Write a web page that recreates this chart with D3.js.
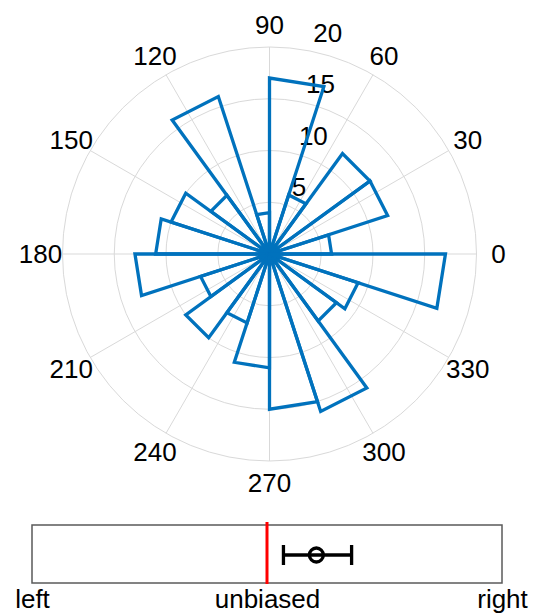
<!DOCTYPE html>
<html>
<head>
<meta charset="utf-8">
<script src="https://cdn.jsdelivr.net/npm/d3@7"></script>
<style>
  html, body { margin: 0; padding: 0; background: #fff; }
  svg { display: block; font-family: "Liberation Sans", Arial, Helvetica, sans-serif; }
</style>
</head>
<body>
<svg id="chart" width="534" height="615"></svg>
<script>
// Angular bin edges (degrees) and counts per bin
const binEdges = [0, 18, 36, 54, 72, 90, 108, 126, 144, 162, 180, 198, 216, 234, 252, 270, 288, 306, 324, 342, 360];
const counts = [6, 12, 12, 6, 17, 4, 16, 7, 10, 11, 13, 7, 10, 7, 11, 15, 16, 8, 9, 17];

// Polar axis ticks
const thetaTicks = [0, 30, 60, 90, 120, 150, 180, 210, 240, 270, 300, 330];
const rTicks = [5, 10, 15, 20];
const rMax = 20;

// Bias summary strip
const biasTicks = [-1, 0, 1];
const biasTickLabels = ["left", "unbiased", "right"];
const biasMean = 0.21;
const biasLow = 0.07;
const biasHigh = 0.36;

const svg = d3.select("#chart");
const cx = 269.5, cy = 254, R = 207;
const blue = "#0072BD";
const gridColor = "#d9d9d9";
const fontSize = 26;

const r = d3.scaleLinear().domain([0, rMax]).range([0, R]);
const toRad = d => d * Math.PI / 180;
const px = (rad, deg) => cx + rad * Math.cos(toRad(deg));
const py = (rad, deg) => cy - rad * Math.sin(toRad(deg));

const polar = svg.append("g");

// grid circles
polar.selectAll("circle.ring")
  .data(rTicks)
  .join("circle")
  .attr("class", "ring")
  .attr("cx", cx).attr("cy", cy)
  .attr("r", d => r(d))
  .attr("fill", "none")
  .attr("stroke", gridColor)
  .attr("stroke-width", 1);

// grid spokes
polar.selectAll("line.spoke")
  .data(thetaTicks)
  .join("line")
  .attr("class", "spoke")
  .attr("x1", cx).attr("y1", cy)
  .attr("x2", d => px(R, d)).attr("y2", d => py(R, d))
  .attr("stroke", gridColor)
  .attr("stroke-width", 1);

// angular tick labels
polar.selectAll("text.theta")
  .data(thetaTicks)
  .join("text")
  .attr("class", "theta")
  .attr("x", d => px(R + 22, d))
  .attr("y", d => py(R + 22, d))
  .attr("text-anchor", "middle")
  .attr("dominant-baseline", "central")
  .attr("font-size", fontSize)
  .attr("fill", "#000")
  .text(d => d);

// radial tick labels along the radial axis
const rAxisAngle = 82;
polar.selectAll("text.rlab")
  .data(rTicks)
  .join("text")
  .attr("class", "rlab")
  .attr("x", d => px(r(d), rAxisAngle) + 15)
  .attr("y", d => py(r(d), rAxisAngle) - 16)
  .attr("text-anchor", "start")
  .attr("dominant-baseline", "central")
  .attr("font-size", fontSize)
  .attr("fill", "#000")
  .text(d => d);

// histogram bins drawn as outlines
const bins = counts.map((c, i) => ({ a0: binEdges[i], a1: binEdges[i + 1], v: c }));
polar.selectAll("path.bin")
  .data(bins)
  .join("path")
  .attr("class", "bin")
  .attr("d", d => {
    const rr = r(d.v);
    return `M${cx},${cy}L${px(rr, d.a0)},${py(rr, d.a0)}L${px(rr, d.a1)},${py(rr, d.a1)}Z`;
  })
  .attr("fill", "none")
  .attr("stroke", blue)
  .attr("stroke-width", 3.3)
  .attr("stroke-linejoin", "miter");

// bias strip
const x = d3.scaleLinear().domain([-1, 1]).range([32, 502]);
const yTop = 525, yBot = 583, yMid = 555;
const strip = svg.append("g");

strip.append("rect")
  .attr("x", x(-1)).attr("y", yTop)
  .attr("width", x(1) - x(-1)).attr("height", yBot - yTop)
  .attr("fill", "none")
  .attr("stroke", "#5a5a5a")
  .attr("stroke-width", 1.5);

strip.append("line")
  .attr("x1", x(0)).attr("x2", x(0))
  .attr("y1", yTop - 3).attr("y2", yBot + 1)
  .attr("stroke", "#ff0000")
  .attr("stroke-width", 3);

const eb = strip.append("g").attr("stroke", "#000").attr("stroke-width", 3.3).attr("fill", "none");
eb.append("line").attr("x1", x(biasLow)).attr("x2", x(biasHigh)).attr("y1", yMid).attr("y2", yMid);
eb.append("line").attr("x1", x(biasLow)).attr("x2", x(biasLow)).attr("y1", yMid - 10).attr("y2", yMid + 10);
eb.append("line").attr("x1", x(biasHigh)).attr("x2", x(biasHigh)).attr("y1", yMid - 10).attr("y2", yMid + 10);
eb.append("circle").attr("cx", x(biasMean)).attr("cy", yMid).attr("r", 7);

const axis = d3.axisBottom(x)
  .tickValues(biasTicks)
  .tickFormat((d, i) => biasTickLabels[i])
  .tickSize(0)
  .tickPadding(7);

const ax = svg.append("g")
  .attr("transform", `translate(0,${yBot})`)
  .call(axis);
ax.select(".domain").remove();
ax.selectAll("text")
  .attr("font-size", fontSize)
  .attr("font-family", "Liberation Sans, Arial, Helvetica, sans-serif")
  .attr("fill", "#000");
</script>
</body>
</html>
